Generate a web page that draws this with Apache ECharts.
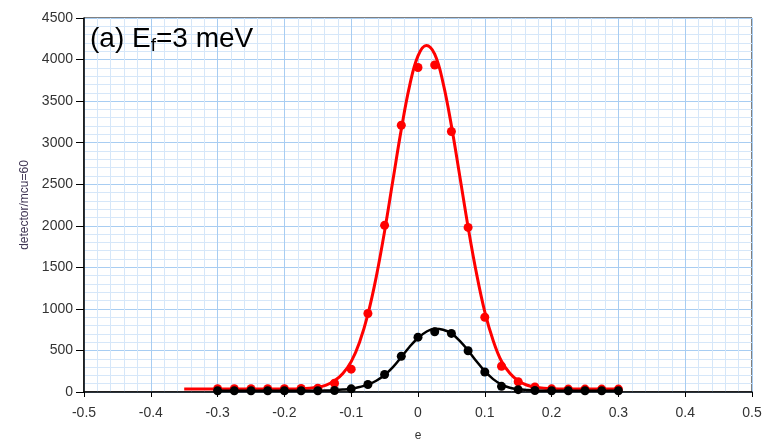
<!DOCTYPE html>
<html>
<head>
<meta charset="utf-8">
<script src="https://cdn.jsdelivr.net/npm/echarts@6/dist/echarts.min.js"></script>
<style>
  html, body { margin: 0; padding: 0; background: #fff; }
  #main { width: 764px; height: 439px; }
</style>
</head>
<body>
<div id="main"></div>
<script>
// measured points, e = -0.3 .. 0.3
const pointX = [-0.3, -0.275, -0.25, -0.225, -0.2, -0.175, -0.15, -0.125, -0.1, -0.075, -0.05, -0.025,
  0, 0.025, 0.05, 0.075, 0.1, 0.125, 0.15, 0.175, 0.2, 0.225, 0.25, 0.275, 0.3];
const redPoints = [40, 40, 40, 40, 40, 42, 45, 105, 275, 945, 2005, 3210,
  3905, 3935, 3135, 1980, 900, 310, 124, 60, 38, 35, 35, 35, 35];
const blackPoints = [15, 15, 15, 15, 15, 15, 15, 18, 38, 90, 210, 430,
  660, 725, 705, 497, 240, 68, 28, 18, 15, 15, 15, 15, 15];

// fitted curves
const curveX = [-0.35, -0.3, -0.25, -0.2, -0.175, -0.15, -0.1375, -0.125, -0.1125, -0.1, -0.0875, -0.075,
  -0.0625, -0.05, -0.0375, -0.025, -0.0125, 0, 0.0125, 0.025, 0.0375, 0.05, 0.0625, 0.075, 0.0875, 0.1,
  0.1125, 0.125, 0.1375, 0.15, 0.1625, 0.175, 0.2, 0.25, 0.3];
const redCurve = [35, 35, 35, 36, 39, 57, 83, 135, 223, 365, 600, 935,
  1385, 1935, 2550, 3160, 3687, 4045, 4170, 4065, 3720, 3205, 2599, 1985, 1430, 965,
  620, 370, 225, 135, 84, 58, 39, 35, 35];
const blackCurve = [null, 15, 15, 15, 15, 16, 18, 22, 29, 40, 60, 88,
  135, 205, 300, 420, 545, 650, 725, 760, 750, 705, 615, 500, 370, 250,
  155, 90, 52, 33, 24, 18, 15, 15, 15];

const yTicks = { min: 0, max: 4500, step: 500 };
const xTicks = { min: -0.5, max: 0.5, step: 0.1 };

const pairs = (xs, ys) => xs.map((x, i) => [x, ys[i]]).filter(p => p[1] !== null);

let chart = echarts.init(document.getElementById("main"));
let labelFont = { color: "#333", fontSize: 14, fontFamily: "Liberation Sans" };
let option = {
  animation: false,
  grid: {
    left: 84,
    right: 12,
    top: 18,
    bottom: 47,
    outerBoundsMode: "none",
    show: true,
    borderColor: "#000",
    borderWidth: 1,
  },
  graphic: [
    {
      type: "text",
      left: 90,
      top: 25,
      z: 10,
      style: {
        text: "(a) E{sub|f}=3 meV",
        fontSize: 28,
        fontFamily: "Liberation Sans",
        fill: "#000",
        stroke: "none",
        lineWidth: 0,
        rich: {
          sub: { fontSize: 19, fontFamily: "Liberation Sans", fill: "#000", stroke: "none", padding: [13, 0, 0, 0] },
        },
      },
    },
  ],
  xAxis: {
    type: "value",
    min: xTicks.min,
    max: xTicks.max,
    interval: xTicks.step,
    name: "e",
    nameLocation: "middle",
    nameGap: 38,
    nameTextStyle: { color: "#333", fontSize: 12, fontFamily: "Liberation Sans" },
    axisLine: { onZero: false, lineStyle: { color: "#000", width: 1.5 } },
    axisTick: { show: true, length: 5, lineStyle: { color: "#000" } },
    axisLabel: Object.assign({ margin: 14, formatter: (v) => String(+v.toFixed(1)) }, labelFont),
    splitLine: { show: true, lineStyle: { color: "#a8cdf2", width: 1 } },
    minorTick: { show: false, splitNumber: 5 },
    minorSplitLine: { show: true, lineStyle: { color: "#d6e7f9", width: 1 } },
  },
  yAxis: {
    type: "value",
    min: yTicks.min,
    max: yTicks.max,
    interval: yTicks.step,
    name: "detector/mcu=60",
    nameLocation: "middle",
    nameGap: 50,
    nameTextStyle: { color: "#3f3553", fontSize: 12, fontFamily: "Liberation Sans" },
    axisLine: { show: true, onZero: false, lineStyle: { color: "#000", width: 1.5 } },
    axisTick: { show: true, length: 8, lineStyle: { color: "#000" } },
    axisLabel: Object.assign({ margin: 11, formatter: (v) => String(v) }, labelFont),
    splitLine: { show: true, lineStyle: { color: "#a8cdf2", width: 1 } },
    minorTick: { show: false, splitNumber: 5 },
    minorSplitLine: { show: true, lineStyle: { color: "#d6e7f9", width: 1 } },
  },
  series: [
    {
      type: "line",
      data: pairs(curveX, redCurve),
      smooth: 0.4,
      showSymbol: false,
      lineStyle: { color: "#ff0000", width: 3 },
      z: 2,
    },
    {
      type: "scatter",
      data: pairs(pointX, redPoints),
      symbolSize: 9,
      itemStyle: { color: "#ff0000", opacity: 1 },
      z: 3,
    },
    {
      type: "line",
      data: pairs(curveX, blackCurve),
      smooth: 0.4,
      showSymbol: false,
      lineStyle: { color: "#000", width: 2.5 },
      z: 4,
    },
    {
      type: "scatter",
      data: pairs(pointX, blackPoints),
      symbolSize: 9,
      itemStyle: { color: "#000", opacity: 1 },
      z: 5,
    },
  ],
};
chart.setOption(option);
</script>
</body>
</html>
